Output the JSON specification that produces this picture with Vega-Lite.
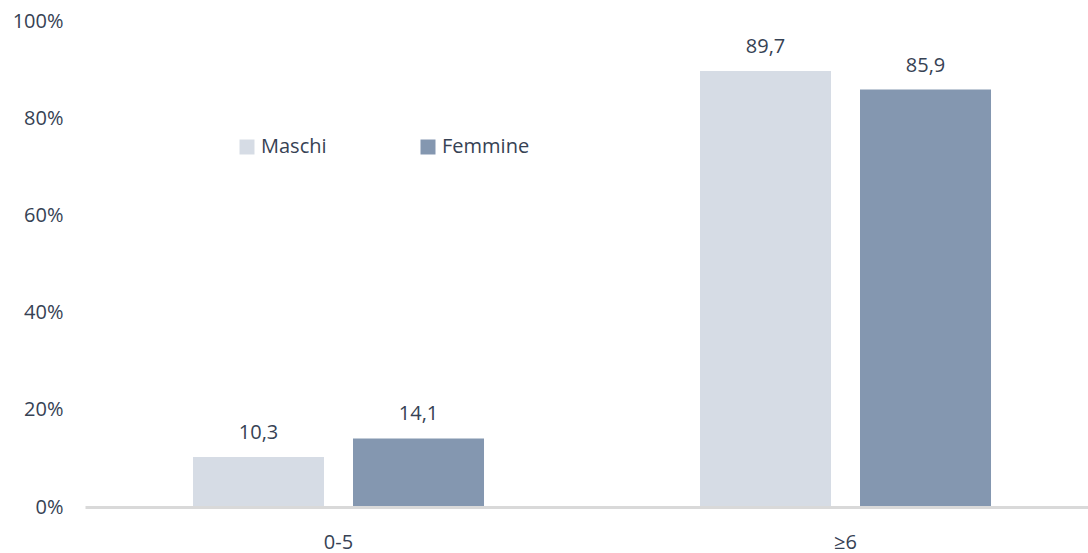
{
  "$schema": "https://vega.github.io/schema/vega-lite/v6.json",
  "width": 1014,
  "height": 486,
  "autosize": {"type": "none"},
  "padding": {"left": 85, "top": 21, "right": 0, "bottom": 46},
  "background": "white",
  "config": {
    "view": {"stroke": null},
    "font": "Open Sans",
    "locale": {"number": {"decimal": ",", "thousands": ".", "grouping": [3], "currency": ["", " €"]}}
  },
  "data": {
    "values": [
      {"eta": "0-5", "sesso": "Maschi", "valore": 10.3},
      {"eta": "0-5", "sesso": "Femmine", "valore": 14.1},
      {"eta": "≥6", "sesso": "Maschi", "valore": 89.7},
      {"eta": "≥6", "sesso": "Femmine", "valore": 85.9}
    ]
  },
  "encoding": {
    "x": {
      "field": "eta", "type": "nominal", "sort": ["0-5", "≥6"],
      "scale": {"paddingInner": 0.426, "paddingOuter": 0.213},
      "axis": {
        "title": null, "labelAngle": 0, "ticks": false,
        "domainColor": "#d9d9d9", "domainWidth": 3,
        "labelFontSize": 20, "labelColor": "#364254", "labelPadding": 25,
        "zindex": 1
      }
    },
    "xOffset": {
      "field": "sesso", "type": "nominal", "sort": ["Maschi", "Femmine"],
      "scale": {"paddingInner": 0.18125, "paddingOuter": 0}
    },
    "y": {
      "field": "valore", "type": "quantitative",
      "scale": {"domain": [0, 100], "nice": false},
      "axis": {
        "title": null, "values": [0, 20, 40, 60, 80, 100],
        "labelExpr": "datum.value + '%'",
        "ticks": false, "domain": false, "grid": false,
        "labelPadding": 22, "labelFontSize": 20, "labelColor": "#364254"
      }
    }
  },
  "layer": [
    {
      "mark": {"type": "bar"},
      "encoding": {
        "color": {
          "field": "sesso", "type": "nominal",
          "scale": {"domain": ["Maschi", "Femmine"], "range": ["#D6DCE5", "#8497B0"]},
          "legend": {
            "title": null, "orient": "none", "legendX": 152, "legendY": 116,
            "direction": "horizontal", "padding": 0,
            "symbolType": "square", "symbolSize": 225, "symbolStrokeWidth": 0, "symbolOpacity": 1,
            "labelFontSize": 20, "labelColor": "#364254", "labelOffset": 4,
            "columnPadding": 91
          }
        }
      }
    },
    {
      "mark": {"type": "text", "dy": -18, "baseline": "alphabetic", "fontSize": 20, "color": "#364254"},
      "encoding": {
        "text": {"field": "valore", "type": "quantitative", "format": ".1f"}
      }
    }
  ]
}
